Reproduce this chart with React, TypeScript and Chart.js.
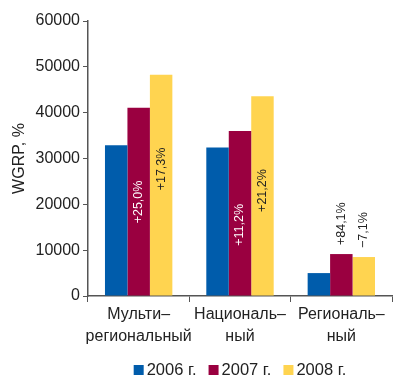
import React, { useEffect, useRef } from "react";
import { Chart, registerables } from "chart.js";

Chart.register(...registerables);

const categories: string[][] = [
  ["Мульти–", "региональный"],
  ["Националь–", "ный"],
  ["Региональ–", "ный"],
];
const seriesNames = ["2006 г.", "2007 г.", "2008 г."];
const values2006 = [32900, 32400, 5000];
const values2007 = [41100, 36000, 9150];
const values2008 = [48300, 43600, 8500];
const growth2007 = ["+25,0%", "+11,2%", "+84,1%"];
const growth2008 = ["+17,3%", "+21,2%", "−7,1%"];
const yTicks = [0, 10000, 20000, 30000, 40000, 50000, 60000];

const colors = ["#005CAB", "#9A0040", "#FFD450"];
const FONT = "'Liberation Sans', Arial, sans-serif";
const TEXT = "#222222";
const AXIS = "#555555";

const growthLabels = [null, growth2007, growth2008];

const labelPlugin = {
  id: "growthLabels",
  afterDatasetsDraw(chart: any) {
    const ctx = chart.ctx;
    ctx.save();
    ctx.font = `12.5px ${FONT}`;
    ctx.textBaseline = "middle";
    for (let d = 1; d < 3; d++) {
      const meta = chart.getDatasetMeta(d);
      const labels = growthLabels[d] as string[];
      meta.data.forEach((bar: any, i: number) => {
        const v = chart.data.datasets[d].data[i] as number;
        ctx.save();
        if (v > 20000) {
          ctx.translate(bar.x, bar.y + 73);
          ctx.rotate(-Math.PI / 2);
          ctx.textAlign = "right";
          ctx.fillStyle = d === 1 ? "#ffffff" : TEXT;
        } else {
          ctx.translate(bar.x, bar.y - 9);
          ctx.rotate(-Math.PI / 2);
          ctx.textAlign = "left";
          ctx.fillStyle = TEXT;
        }
        ctx.fillText(labels[i], 0, 0);
        ctx.restore();
      });
    }
    ctx.restore();
  },
};

const legendPlugin = {
  id: "customLegend",
  afterDraw(chart: any) {
    const ctx = chart.ctx;
    ctx.save();
    ctx.font = `16.5px ${FONT}`;
    ctx.textBaseline = "alphabetic";
    const box = 10;
    const gap = 3;
    const itemGap = 12;
    const widths = seriesNames.map((n) => box + gap + ctx.measureText(n).width);
    const total = widths.reduce((a, b) => a + b, 0) + itemGap * (widths.length - 1);
    const area = chart.chartArea;
    let x = (area.left + area.right) / 2 - total / 2;
    const baseline = 375;
    seriesNames.forEach((n, i) => {
      ctx.fillStyle = colors[i];
      ctx.fillRect(x, baseline - box, box, box);
      ctx.fillStyle = TEXT;
      ctx.textAlign = "left";
      ctx.fillText(n, x + box + gap, baseline);
      x += widths[i] + itemGap;
    });
    ctx.restore();
  },
};

export default function App() {
  const ref = useRef<HTMLCanvasElement | null>(null);
  useEffect(() => {
    if (!ref.current) return;
    const chart = new Chart(ref.current, {
      type: "bar",
      data: {
        labels: categories,
        datasets: [values2006, values2007, values2008].map((data, i) => ({
          label: seriesNames[i],
          data,
          backgroundColor: colors[i],
          borderWidth: 0,
          barPercentage: 1,
          categoryPercentage: 0.665,
        })),
      },
      options: {
        animation: false,
        responsive: false,
        maintainAspectRatio: false,
        layout: { padding: { top: 21, right: 8, bottom: 0, left: 10 } },
        plugins: {
          legend: { display: false },
          tooltip: { enabled: false },
        },
        scales: {
          x: {
            grid: {
              drawOnChartArea: false,
              drawTicks: true,
              tickLength: 6,
              color: AXIS,
              offset: true,
            },
            border: { color: AXIS, width: 1.5 },
            ticks: {
              color: TEXT,
              font: { family: FONT, size: 16, lineHeight: 1.375 },
              padding: 2,
              maxRotation: 0,
              autoSkip: false,
            },
            afterFit: (scale: any) => {
              scale.height = 90;
            },
          },
          y: {
            min: 0,
            max: 60000,
            afterBuildTicks: (scale: any) => {
              scale.ticks = yTicks.map((v) => ({ value: v }));
            },
            grid: {
              drawOnChartArea: false,
              drawTicks: true,
              tickLength: 5,
              color: AXIS,
            },
            border: { color: AXIS, width: 1.5 },
            ticks: {
              color: TEXT,
              font: { family: FONT, size: 16 },
              padding: 3,
              callback: (v: any) => String(v),
            },
            title: {
              display: true,
              text: "WGRP, %",
              color: TEXT,
              font: { family: FONT, size: 16 },
              padding: { top: 0, bottom: 0 },
            },
            afterFit: (scale: any) => {
              scale.width = 78;
            },
          },
        },
      },
      plugins: [labelPlugin, legendPlugin],
    });
    return () => chart.destroy();
  }, []);
  return (
    <div style={{ position: "fixed", left: 0, top: 0, width: 400, height: 386, background: "#fff" }}>
      <canvas ref={ref} width={400} height={386} style={{ display: "block" }} />
    </div>
  );
}
